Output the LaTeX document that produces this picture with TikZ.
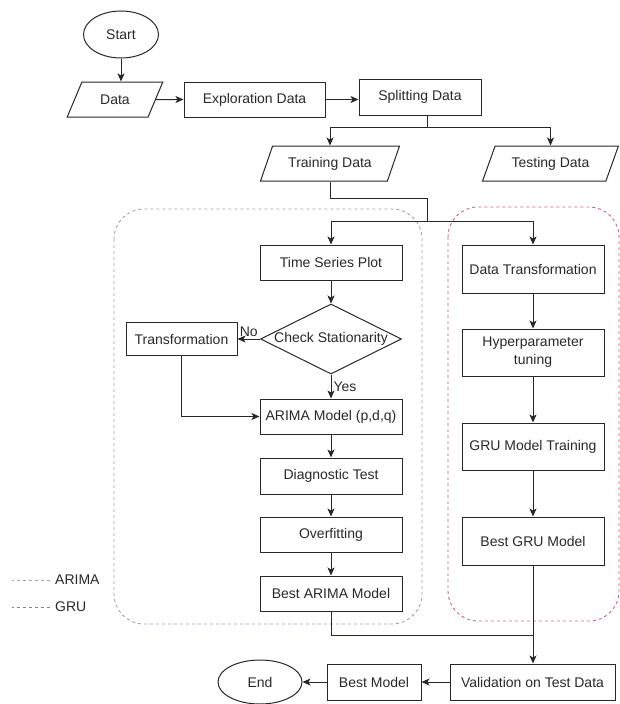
\documentclass[tikz,border=0pt]{standalone}
\usepackage{fontspec}
\setmainfont{Liberation Sans}
\usetikzlibrary{arrows.meta,shapes.geometric}

\definecolor{ink}{RGB}{40,40,40}
\definecolor{arimadash}{RGB}{160,160,180}
\definecolor{grudash}{RGB}{200,100,120}

\begin{document}
\begin{tikzpicture}[x=1pt, y=-1pt,
  every node/.style={font=\fontsize{14}{18}\selectfont, text=ink},
  proc/.style={draw=ink, line width=1pt, inner sep=0pt, minimum width=142, minimum height=35},
  io/.style={draw=ink, line width=1pt, trapezium, trapezium left angle=56,
    trapezium right angle=124, trapezium stretches=true, inner sep=0pt, minimum height=35},
  term/.style={draw=ink, line width=1pt, ellipse, inner sep=0pt},
  dec/.style={draw=ink, line width=1pt, diamond, inner sep=0pt, minimum width=141, minimum height=70},
  arr/.style={draw=ink, line width=1pt, -{Stealth[length=8pt, width=7pt, inset=2pt]}},
  link/.style={draw=ink, line width=1pt},
  group/.style={dash pattern=on 3pt off 3pt, line width=0.9pt, rounded corners=30}]

\useasboundingbox (0,0) rectangle (620,704);

\draw[group, draw=arimadash] (114,209) rectangle (422,624);
\draw[group, draw=grudash] (448,207) rectangle (619,621);

\node[term, minimum width=75, minimum height=47] (start) at (121,34.5) {Start};
\node[io, minimum width=96] (data) at (115,99.5) {Data};
\node[proc, minimum width=141] (expl) at (254.5,99.5) {Exploration Data};
\node[proc, minimum width=122, minimum height=36] (split) at (420,97) {Splitting Data};
\node[io, minimum width=139] (train) at (330,163.5) {Training Data};
\node[io, minimum width=137] (test) at (550.5,163.5) {Testing Data};

\node[proc] (tsp) at (331,262.5) {Time Series Plot};
\node[dec] (chk) at (331,339) {\makebox[0pt]{Check Stationarity}};
\node[proc, minimum width=111, minimum height=33] (trf) at (181.5,339) {Transformation};
\node[proc] (arima) at (331,416.5) {ARIMA Model (p,d,q)};
\node[proc, minimum height=36] (diag) at (331,476) {Diagnostic Test};
\node[proc] (ovf) at (331,534.5) {Overfitting};
\node[proc] (barima) at (331,593.5) {Best ARIMA Model};

\node[proc, minimum height=48] (dtr) at (533,269) {Data Transformation};
\node[proc, minimum height=47, align=center] (hyp) at (533,352.5) {Hyperparameter\\tuning};
\node[proc, minimum height=47] (grut) at (533,446.5) {GRU Model Training};
\node[proc, minimum height=48] (bgru) at (533,541) {Best GRU Model};

\node[proc, minimum width=165, minimum height=36] (val) at (532.5,682) {Validation on Test Data};
\node[proc, minimum width=94, minimum height=36] (best) at (374,682) {Best Model};
\node[term, minimum width=84, minimum height=44] (end) at (260,682) {End};

\node[anchor=west, inner sep=0pt] (lga) at (55,580) {ARIMA};
\node[anchor=west, inner sep=0pt] (lgg) at (55,607) {GRU};
\draw[arimadash, dash pattern=on 3pt off 3pt, line width=0.9pt] (lga.west) ++(-5,0) -- ++(-38,0);
\draw[grudash, dash pattern=on 3pt off 3pt, line width=0.9pt] (lgg.west) ++(-5,0) -- ++(-38,0);

\draw[arr] (start.south) -- (start.south |- data.north);
\draw[arr] (data) -- (expl);
\draw[arr] (expl) -- (expl -| split.west);

\coordinate (j1) at (427,127);
\draw[link] (split.south -| j1) -- (j1);
\draw[arr] (j1) -| (train.north);
\draw[arr] (j1) -| (test.north);

\coordinate (j2) at (427,221);
\draw[link] (train.south) -- ++(0,17) -| (j2);
\draw[arr] (j2) -| (tsp.north);
\draw[arr] (j2) -| (dtr.north);

\draw[arr] (tsp) -- (chk);
\draw[arr] (chk) -- node[above, inner sep=1.5pt] {No} (trf);
\draw[arr] (chk) -- node[right, inner sep=2pt] {Yes} (arima);
\draw[arr] (trf.south) |- (arima.west);
\draw[arr] (arima) -- (diag);
\draw[arr] (diag) -- (ovf);
\draw[arr] (ovf) -- (barima);

\draw[arr] (dtr) -- (hyp);
\draw[arr] (hyp) -- (grut);
\draw[arr] (grut) -- (bgru);

\coordinate (j3) at (533,635);
\draw[link] (barima.south) |- (j3);
\draw[arr] (bgru.south) -- (bgru.south |- val.north);
\draw[arr] (val) -- (best);
\draw[arr] (best) -- (end);

\end{tikzpicture}
\end{document}
